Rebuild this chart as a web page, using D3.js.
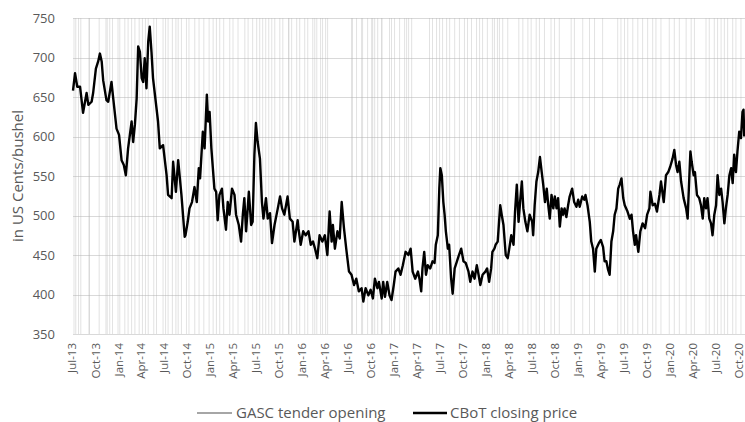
<!DOCTYPE html>
<html>
<head>
<meta charset="utf-8">
<script src="https://cdn.jsdelivr.net/npm/d3@7"></script>
<style>
  body { margin: 0; background: #fff; }
  text { font-family: "Open Sans", "Noto Sans", sans-serif; }
</style>
</head>
<body>
<div id="chart"></div>
<script>
// CBoT wheat closing price (US cents/bushel)
const priceDates = [
  "2013-07-01","2013-07-09","2013-07-18","2013-07-29","2013-08-10","2013-08-24","2013-08-31","2013-09-13","2013-09-19","2013-09-30",
  "2013-10-09","2013-10-16","2013-10-23","2013-10-29","2013-11-11","2013-11-18","2013-12-01","2013-12-08","2013-12-21","2013-12-31",
  "2014-01-10","2014-01-19","2014-01-27","2014-02-05","2014-02-19","2014-02-25","2014-03-04","2014-03-11","2014-03-17","2014-03-24",
  "2014-03-31","2014-04-06","2014-04-12","2014-04-19","2014-04-26","2014-05-02","2014-05-09","2014-05-15","2014-06-04","2014-06-11",
  "2014-06-24","2014-07-08","2014-07-14","2014-07-28","2014-08-03","2014-08-14","2014-08-23","2014-09-05","2014-09-18","2014-09-21",
  "2014-09-30","2014-10-07","2014-10-17","2014-10-27","2014-11-05","2014-11-13","2014-11-18","2014-11-29","2014-12-06","2014-12-15",
  "2014-12-20","2014-12-26","2015-01-02","2015-01-14","2015-01-21","2015-01-27","2015-02-03","2015-02-13","2015-02-19","2015-03-01",
  "2015-03-08","2015-03-15","2015-03-25","2015-04-04","2015-04-10","2015-04-21","2015-04-30","2015-05-07","2015-05-13","2015-05-20",
  "2015-05-31","2015-06-09","2015-06-15","2015-06-22","2015-06-28","2015-07-05","2015-07-14","2015-07-22","2015-07-28","2015-08-07",
  "2015-08-14","2015-08-23","2015-08-31","2015-09-10","2015-09-23","2015-10-02","2015-10-10","2015-10-19","2015-11-01","2015-11-10",
  "2015-11-21","2015-11-28","2015-12-11","2015-12-14","2015-12-23","2016-01-02","2016-01-12","2016-01-23","2016-02-01","2016-02-10",
  "2016-02-18","2016-02-27","2016-03-07","2016-03-18","2016-03-28","2016-04-07","2016-04-16","2016-04-24","2016-04-29","2016-05-07",
  "2016-05-17","2016-05-26","2016-06-03","2016-06-12","2016-06-21","2016-07-02","2016-07-12","2016-07-22","2016-07-31","2016-08-10",
  "2016-08-21","2016-08-28","2016-09-06","2016-09-17","2016-09-26","2016-10-05","2016-10-13","2016-10-23","2016-10-29","2016-11-09",
  "2016-11-15","2016-11-22","2016-12-01","2016-12-10","2016-12-18","2016-12-27","2017-01-03","2017-01-14","2017-01-23","2017-02-01",
  "2017-02-12","2017-02-23","2017-03-04","2017-03-12","2017-03-22","2017-04-02","2017-04-08","2017-04-15","2017-04-20","2017-04-27",
  "2017-05-04","2017-05-11","2017-05-21","2017-05-30","2017-06-07","2017-06-12","2017-06-20","2017-06-26","2017-06-30","2017-07-06",
  "2017-07-12","2017-07-17","2017-07-22","2017-07-30","2017-08-04","2017-08-12","2017-08-18","2017-08-26","2017-09-04","2017-09-10",
  "2017-09-21","2017-09-30","2017-10-09","2017-10-20","2017-10-27","2017-11-05","2017-11-13","2017-11-22","2017-11-29","2017-12-06",
  "2017-12-15","2017-12-26","2018-01-02","2018-01-10","2018-01-18","2018-01-23","2018-01-31","2018-02-05","2018-02-13","2018-02-23",
  "2018-03-01","2018-03-08","2018-03-17","2018-03-25","2018-03-31","2018-04-08","2018-04-17","2018-04-23","2018-04-30","2018-05-07",
  "2018-05-13","2018-05-20","2018-05-26","2018-06-03","2018-06-11","2018-06-20","2018-06-30","2018-07-04","2018-07-10","2018-07-17",
  "2018-07-24","2018-07-31","2018-08-07","2018-08-13","2018-08-20","2018-08-27","2018-09-02","2018-09-08","2018-09-15","2018-09-22",
  "2018-09-28","2018-10-05","2018-10-11","2018-10-18","2018-10-25","2018-10-31","2018-11-06","2018-11-13","2018-11-20","2018-11-26",
  "2018-12-06","2018-12-14","2018-12-23","2018-12-30","2019-01-05","2019-01-15","2019-01-23","2019-01-28","2019-02-05","2019-02-14",
  "2019-02-20","2019-02-27","2019-03-06","2019-03-12","2019-03-22","2019-03-30","2019-04-08","2019-04-14","2019-04-21","2019-04-28",
  "2019-05-04","2019-05-11","2019-05-18","2019-05-24","2019-05-31","2019-06-07","2019-06-13","2019-06-20","2019-06-27","2019-07-03",
  "2019-07-14","2019-07-23","2019-07-30","2019-08-05","2019-08-12","2019-08-17","2019-08-26","2019-09-03","2019-09-12","2019-09-22",
  "2019-09-30","2019-10-09","2019-10-13","2019-10-22","2019-10-31","2019-11-08","2019-11-18","2019-11-24","2019-12-05","2019-12-14",
  "2019-12-23","2019-12-31","2020-01-09","2020-01-16","2020-01-23","2020-01-29","2020-02-05","2020-02-12","2020-02-22","2020-03-03",
  "2020-03-09","2020-03-16","2020-03-20","2020-03-25","2020-04-02","2020-04-07","2020-04-15","2020-04-24","2020-05-01","2020-05-08",
  "2020-05-14","2020-05-21","2020-05-27","2020-06-03","2020-06-10","2020-06-16","2020-06-23","2020-06-30","2020-07-06","2020-07-13",
  "2020-07-20","2020-07-26","2020-08-02","2020-08-08","2020-08-15","2020-08-22","2020-08-29","2020-09-04","2020-09-10","2020-09-17",
  "2020-09-23","2020-09-30","2020-10-07","2020-10-13","2020-10-17","2020-10-20"
];
const priceValues = [
  658,680,663,663,630,655,640,644,655,686,
  695,705,695,671,646,644,669,648,610,602,
  570,564,551,585,619,593,615,648,714,707,
  674,669,699,661,720,739,707,674,619,585,
  589,551,526,522,568,530,570,526,473,475,
  492,509,517,536,517,560,547,606,585,653,
  619,631,585,534,530,494,526,534,509,482,
  517,501,534,526,501,488,467,501,522,480,
  530,488,492,577,617,593,572,517,496,522,
  496,503,465,488,509,524,509,501,524,496,
  492,467,494,484,463,480,475,480,463,467,
  458,446,475,467,475,450,505,467,488,458,
  480,471,517,484,458,429,425,412,420,404,
  408,391,408,399,406,395,420,408,416,395,
  416,397,416,399,393,412,429,433,425,437,
  454,450,458,429,420,429,420,404,433,454,
  425,437,433,442,440,463,475,534,560,551,
  517,501,480,458,463,420,401,433,442,448,
  458,442,440,429,416,429,420,437,425,412,
  425,429,433,416,433,454,458,463,467,513,
  501,488,450,446,458,475,463,505,539,492,
  517,543,509,492,480,501,492,475,513,543,
  555,574,555,539,517,534,513,496,526,509,
  524,509,522,486,509,501,509,498,513,524,
  534,517,511,520,511,524,520,526,513,492,
  467,458,429,458,465,469,460,442,442,431,
  425,467,480,501,509,534,539,547,522,513,
  505,496,501,480,463,475,454,480,490,484,
  501,509,530,513,515,505,526,543,517,551,
  555,562,572,583,564,555,568,543,522,509,
  496,551,581,568,551,555,526,522,513,496,
  522,509,522,496,490,475,501,513,551,526,
  534,517,490,509,526,551,560,541,577,555,
  581,606,598,631,634,600
];

// GASC tender opening dates (vertical markers)
const tenderDates = [
  "2013-07-05","2013-07-12","2013-07-23","2013-08-01","2013-09-03","2013-09-04","2013-10-13","2013-11-09","2013-11-14","2013-11-24",
  "2013-12-05","2013-12-27","2014-01-03","2014-01-23","2014-02-05","2014-02-19","2014-03-04","2014-03-21","2014-04-03","2014-04-15",
  "2014-04-26","2014-05-18","2014-05-29","2014-06-24","2014-07-04","2014-07-14","2014-07-31","2014-08-14","2014-08-23","2014-09-05",
  "2014-09-25","2014-10-05","2014-10-28","2014-11-14","2014-12-03","2014-12-24","2015-01-09","2015-01-22","2015-02-04","2015-02-20",
  "2015-03-16","2015-03-29","2015-04-18","2015-05-15","2015-05-28","2015-06-15","2015-07-01","2015-07-13","2015-07-25","2015-08-06",
  "2015-08-18","2015-08-30","2015-09-11","2015-10-01","2015-10-13","2015-11-05","2015-11-06","2015-11-17","2015-12-07","2015-12-19",
  "2016-01-08","2016-01-20","2016-02-09","2016-02-17","2016-02-25","2016-03-11","2016-03-19","2016-03-31","2016-04-08","2016-07-12",
  "2016-07-16","2016-08-01","2016-08-21","2016-08-25","2016-09-14","2016-09-30","2016-10-04","2016-10-12","2016-10-24","2016-11-09",
  "2016-11-10","2016-12-10","2016-12-18","2016-12-30","2017-01-19","2017-02-08","2017-02-16","2017-02-24","2017-03-08","2017-05-18",
  "2017-05-30","2017-06-15","2017-06-27","2017-07-09","2017-07-25","2017-08-06","2017-08-26","2017-09-14","2017-10-04","2017-10-16",
  "2017-11-01","2017-11-21","2017-12-03","2017-12-15","2018-01-03","2018-01-23","2018-01-31","2018-02-12","2018-02-20","2018-03-05",
  "2018-03-25","2018-05-08","2018-05-24","2018-06-13","2018-06-26","2018-07-16","2018-07-29","2018-08-18","2018-09-13","2018-09-27",
  "2018-10-16","2018-12-02","2018-12-15","2019-01-17","2019-02-13","2019-03-05","2019-04-06","2019-06-05","2019-06-18","2019-07-02",
  "2019-07-15","2019-08-04","2019-08-24","2019-09-12","2019-10-02","2019-10-22","2019-11-04","2019-11-24","2019-12-27","2020-01-16",
  "2020-02-05","2020-03-03","2020-03-23","2020-04-05","2020-05-21","2020-06-03","2020-06-23","2020-07-06","2020-07-20","2020-08-02",
  "2020-08-15","2020-09-04","2020-09-17","2020-10-07"
];

const yTicks = [350, 400, 450, 500, 550, 600, 650, 700, 750];
const axisStart = "2013-07-01", axisEnd = "2020-10-23";
const seriesNames = ["GASC tender opening", "CBoT closing price"];

const W = 745, H = 422;
const margin = { top: 18, right: 0, bottom: 88, left: 73 };
const plotW = W - margin.left - margin.right,
      plotH = H - margin.top - margin.bottom;

const parse = d3.timeParse("%Y-%m-%d");
const prices = priceDates.map((d, i) => ({ date: parse(d), value: priceValues[i] }));
const tenders = tenderDates.map(parse);

const svg = d3.select("#chart").append("svg")
  .attr("width", W)
  .attr("height", H);

const x = d3.scaleTime().domain([parse(axisStart), parse(axisEnd)]).range([0, plotW]);
const y = d3.scaleLinear().domain([350, 750]).range([plotH, 0]);

const g = svg.append("g").attr("transform", "translate(" + margin.left + "," + margin.top + ")");

// horizontal gridlines + y labels
const yAxis = g.append("g")
  .call(d3.axisLeft(y).tickValues(yTicks).tickSize(-plotW).tickPadding(18));
yAxis.select(".domain").remove();
yAxis.selectAll("line").attr("stroke", "#d9d9d9").attr("shape-rendering", "crispEdges");
yAxis.selectAll("text")
  .attr("fill", "#595959")
  .attr("font-size", "13px")
  .style("font-family", "'Open Sans', sans-serif");

// tender opening markers
g.append("g").selectAll("line")
  .data(tenders)
  .enter().append("line")
  .attr("x1", d => x(d)).attr("x2", d => x(d))
  .attr("y1", y(350)).attr("y2", y(750))
  .attr("stroke", "#b4b4b4")
  .attr("stroke-opacity", 0.38)
  .attr("stroke-width", 1);

// x axis
const xAxis = g.append("g")
  .attr("transform", "translate(0," + plotH + ")")
  .call(d3.axisBottom(x).ticks(d3.timeMonth.every(3)).tickFormat(d3.timeFormat("%b-%y")).tickSize(0));
xAxis.select(".domain").attr("stroke", "#d9d9d9").attr("shape-rendering", "crispEdges");
xAxis.selectAll("text")
  .attr("transform", "rotate(-90)")
  .attr("text-anchor", "end")
  .attr("x", -9)
  .attr("y", 0)
  .attr("dy", "0.25em")
  .attr("fill", "#595959")
  .attr("font-size", "11.5px")
  .style("font-family", "'Open Sans', sans-serif");

// y axis title
svg.append("text")
  .attr("transform", "translate(23," + (margin.top + plotH / 2) + ") rotate(-90)")
  .attr("text-anchor", "middle")
  .attr("fill", "#595959")
  .attr("font-size", "15px")
  .text("in US Cents/bushel");

// price line
const line = d3.line().x(d => x(d.date)).y(d => y(d.value));
g.append("path")
  .datum(prices)
  .attr("fill", "none")
  .attr("stroke", "#000")
  .attr("stroke-width", 2.4)
  .attr("stroke-linejoin", "round")
  .attr("d", line);

// legend
const legend = svg.append("g").attr("transform", "translate(0,413)");
legend.append("line").attr("x1", 197).attr("x2", 232).attr("y1", 0).attr("y2", 0)
  .attr("stroke", "#a6a6a6").attr("stroke-width", 2);
legend.append("text").attr("x", 236).attr("y", 5).attr("fill", "#595959").attr("font-size", "15px").text(seriesNames[0]);
legend.append("line").attr("x1", 413).attr("x2", 447).attr("y1", 0).attr("y2", 0)
  .attr("stroke", "#000").attr("stroke-width", 2.5);
legend.append("text").attr("x", 450).attr("y", 5).attr("fill", "#595959").attr("font-size", "15px").text(seriesNames[1]);
</script>
</body>
</html>
